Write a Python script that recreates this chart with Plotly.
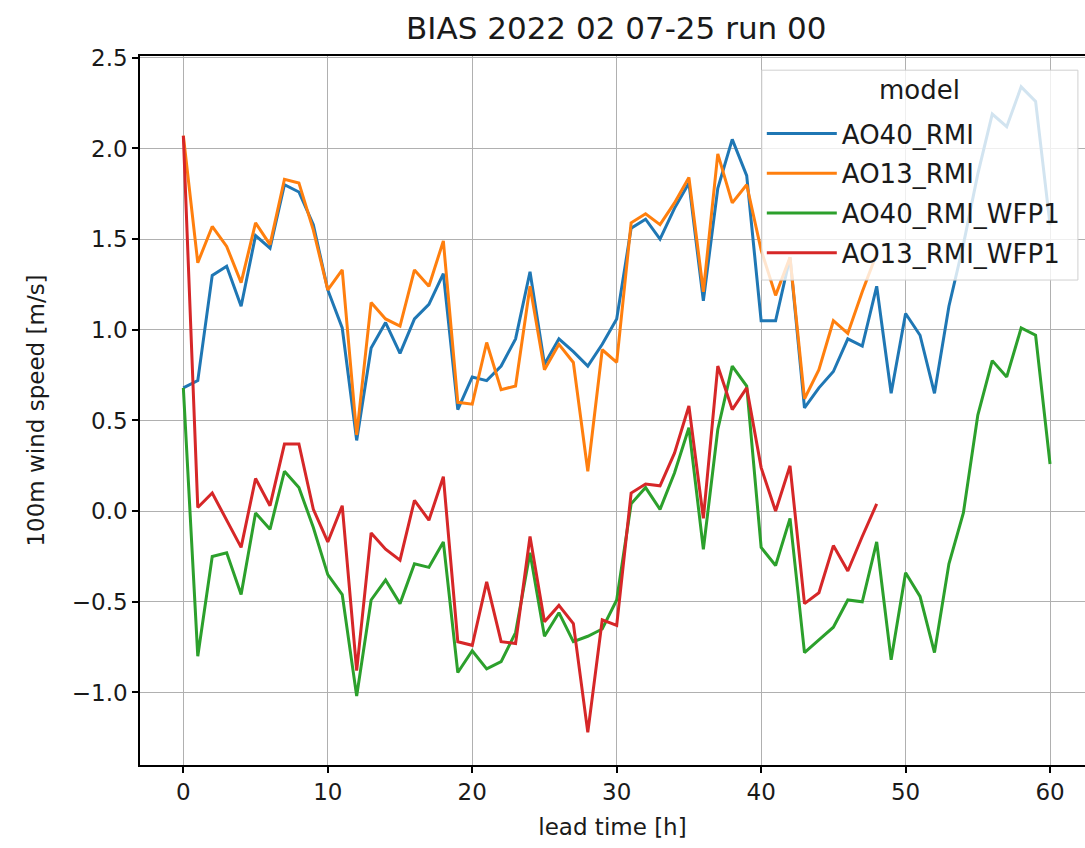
import plotly.graph_objects as go

# lead times (hours)
hours_full = list(range(61))
hours_short = list(range(49))

# bias of 100 m wind speed per model [m/s]
ao40_rmi = [0.68, 0.72, 1.30, 1.35, 1.13, 1.52, 1.45, 1.80, 1.76, 1.58,
            1.22, 1.01, 0.39, 0.90, 1.04, 0.87, 1.06, 1.14, 1.31, 0.56,
            0.74, 0.72, 0.80, 0.95, 1.32, 0.81, 0.95, 0.88, 0.80, 0.92,
            1.06, 1.56, 1.61, 1.50, 1.67, 1.81, 1.16, 1.78, 2.05, 1.85,
            1.05, 1.05, 1.40, 0.57, 0.68, 0.77, 0.95, 0.91, 1.24, 0.65,
            1.09, 0.97, 0.65, 1.13, 1.47, 1.86, 2.19, 2.12, 2.34, 2.26,
            1.58]
ao13_rmi = [2.07, 1.37, 1.57, 1.46, 1.26, 1.59, 1.47, 1.83, 1.81, 1.55,
            1.22, 1.33, 0.42, 1.15, 1.06, 1.02, 1.33, 1.24, 1.49, 0.60,
            0.59, 0.93, 0.67, 0.69, 1.24, 0.78, 0.92, 0.82, 0.22, 0.89,
            0.82, 1.59, 1.64, 1.58, 1.70, 1.84, 1.21, 1.97, 1.70, 1.80,
            1.44, 1.19, 1.40, 0.62, 0.78, 1.05, 0.98, 1.21, 1.42]
ao40_rmi_wfp1 = [0.68, -0.80, -0.25, -0.23, -0.46, -0.01, -0.10, 0.22, 0.13, -0.09,
                 -0.35, -0.46, -1.02, -0.49, -0.38, -0.51, -0.29, -0.31, -0.17, -0.89,
                 -0.77, -0.87, -0.83, -0.67, -0.23, -0.69, -0.56, -0.72, -0.69, -0.65,
                 -0.49, 0.04, 0.13, 0.01, 0.21, 0.46, -0.21, 0.45, 0.80, 0.69,
                 -0.20, -0.30, -0.04, -0.78, -0.71, -0.64, -0.49, -0.50, -0.17, -0.82,
                 -0.34, -0.47, -0.78, -0.29, -0.01, 0.53, 0.83, 0.74, 1.01, 0.97,
                 0.26]
ao13_rmi_wfp1 = [2.07, 0.02, 0.10, -0.05, -0.20, 0.18, 0.03, 0.37, 0.37, 0.01,
                 -0.17, 0.03, -0.88, -0.12, -0.21, -0.27, 0.06, -0.05, 0.19, -0.72,
                 -0.74, -0.39, -0.72, -0.73, -0.14, -0.61, -0.52, -0.62, -1.22, -0.60,
                 -0.63, 0.10, 0.15, 0.14, 0.32, 0.58, -0.04, 0.80, 0.56, 0.68,
                 0.24, 0.00, 0.25, -0.51, -0.45, -0.19, -0.33, -0.14, 0.04]

series = [
    ("AO40_RMI", hours_full, ao40_rmi, "#1f77b4"),
    ("AO13_RMI", hours_short, ao13_rmi, "#ff7f0e"),
    ("AO40_RMI_WFP1", hours_full, ao40_rmi_wfp1, "#2ca02c"),
    ("AO13_RMI_WFP1", hours_short, ao13_rmi_wfp1, "#d62728"),
]

x_ticks = [0, 10, 20, 30, 40, 50, 60]
y_ticks = [-1.0, -0.5, 0.0, 0.5, 1.0, 1.5, 2.0, 2.5]
y_tick_text = ["\u22121.0", "\u22120.5", "0.0", "0.5", "1.0", "1.5", "2.0", "2.5"]

FONT = "DejaVu Sans"
INK = "#1a1a1a"

# legend frame, in paper fractions of the plot area
LEG_X0, LEG_X1 = 0.658, 0.9925
LEG_Y0, LEG_Y1 = 0.684, 0.980

fig = go.Figure()
for name, xs, ys, color in series:
    # one legend group per model so the group gap spaces the entries
    fig.add_trace(go.Scatter(x=xs, y=ys, mode="lines", name=name,
                             legendgroup=name,
                             line=dict(color=color, width=3)))

# translucent legend panel drawn over the lines, with its title
fig.add_shape(type="rect", xref="paper", yref="paper",
              x0=LEG_X0, x1=LEG_X1, y0=LEG_Y0, y1=LEG_Y1,
              fillcolor="rgba(255,255,255,0.8)",
              line=dict(color="#d0d0d0", width=1), layer="above")
fig.add_annotation(text="model", xref="paper", yref="paper",
                   x=(LEG_X0 + LEG_X1) / 2, y=0.952, xanchor="center",
                   yanchor="middle", showarrow=False,
                   font=dict(family=FONT, size=26, color=INK))

axis_common = dict(
    showline=True, linecolor="black", linewidth=1.5,
    ticks="outside", ticklen=6, tickwidth=1.5, tickcolor="black",
    showgrid=True, gridcolor="#b0b0b0", gridwidth=1.3,
    zeroline=False,
    tickfont=dict(family=FONT, size=23, color=INK),
)

fig.update_layout(
    width=1085, height=848,
    margin=dict(l=140, r=0, t=56, b=83),
    paper_bgcolor="white", plot_bgcolor="white",
    title=dict(text="BIAS 2022 02 07-25 run 00", x=0.568, xanchor="center",
               y=1 - 28 / 848, yanchor="middle", yref="container",
               font=dict(family=FONT, size=31, color=INK)),
    xaxis=dict(range=[-3, 62.42], tickvals=x_ticks, mirror=True,
               title=dict(text="lead time [h]", standoff=15,
                          font=dict(family=FONT, size=23, color=INK)),
               **axis_common),
    yaxis=dict(range=[-1.40, 2.51], tickvals=y_ticks, ticktext=y_tick_text,
               title=dict(text="100m wind speed [m/s]", standoff=21,
                          font=dict(family=FONT, size=23, color=INK)),
               **axis_common),
    legend=dict(
        font=dict(family=FONT, size=26, color=INK),
        x=LEG_X0, xanchor="left",
        y=(765 - 110) / 709, yanchor="top",
        bgcolor="rgba(0,0,0,0)", borderwidth=0,
        itemwidth=70,
        tracegroupgap=3,
    ),
    showlegend=True,
)

fig.write_html("out.html")
